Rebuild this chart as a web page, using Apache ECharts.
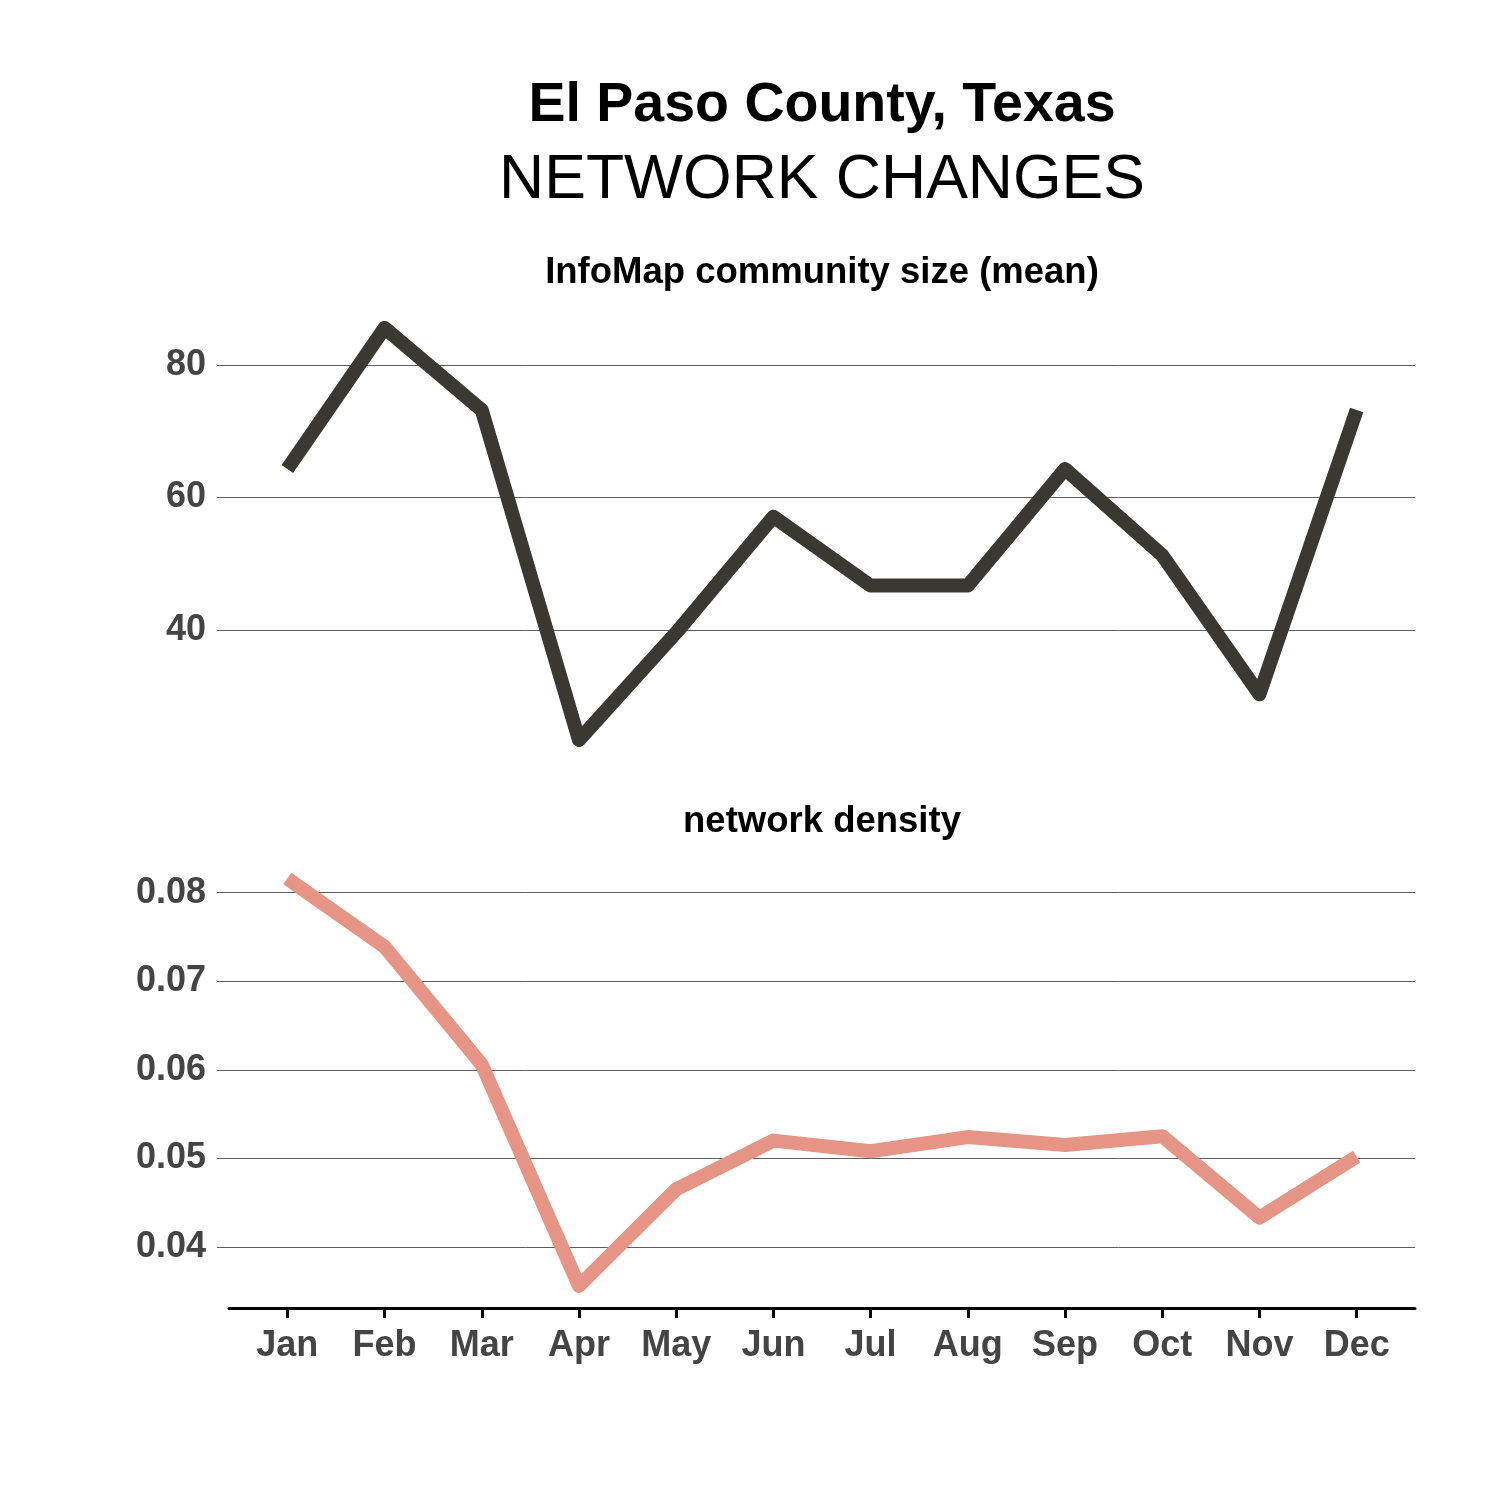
<!DOCTYPE html>
<html>
<head>
<meta charset="utf-8">
<script src="https://cdn.jsdelivr.net/npm/echarts@6/dist/echarts.min.js"></script>
<style>
  html, body { margin: 0; padding: 0; background: #fff; }
  #chart { width: 1500px; height: 1500px; }
</style>
</head>
<body>
<div id="chart"></div>
<script>
const months = ['Jan', 'Feb', 'Mar', 'Apr', 'May', 'Jun', 'Jul', 'Aug', 'Sep', 'Oct', 'Nov', 'Dec']
const communitySize = [64.3, 85.6, 73.2, 23.4, 39.6, 57.1, 46.7, 46.7, 64.3, 51.3, 30.3, 73.2]
const density = [0.0816, 0.0739, 0.0606, 0.0356, 0.0465, 0.0520, 0.0508, 0.0524, 0.0515, 0.0525, 0.0433, 0.0502]
const sizeTicks = [40, 60, 80]
const densityTicks = [0.04, 0.05, 0.06, 0.07, 0.08]

const FONT = "'Liberation Sans', Arial, Helvetica, sans-serif"
const monthIdx = months.map((m, i) => i)

const chart = echarts.init(document.getElementById('chart'), null, { renderer: 'canvas' })

function yAxisFor(gridIndex, min, max, ticks, fmt) {
  return {
    type: 'value',
    gridIndex: gridIndex,
    min: min,
    max: max,
    // keep the axis at the grid's left edge, not at x = 0
    axisLine: { show: false, onZero: false },
    axisTick: {
      show: true,
      length: 12,
      customValues: ticks,
      lineStyle: { color: '#5e5e5e', width: 1 }
    },
    splitLine: {
      show: true,
      lineStyle: { color: '#5e5e5e', width: 1 }
    },
    axisLabel: {
      customValues: ticks,
      margin: 23,
      fontSize: 36,
      fontWeight: 'bold',
      fontFamily: FONT,
      color: '#444',
      formatter: fmt
    }
  }
}

chart.setOption({
  animation: false,
  backgroundColor: '#fff',
  graphic: [
    { type: 'text', x: 822, y: 106, style: { text: 'El Paso County, Texas', fontSize: 55.5, fontWeight: 'bold', fontFamily: FONT, fill: '#000', align: 'center', verticalAlign: 'middle' } },
    { type: 'text', x: 822, y: 181, style: { text: 'NETWORK CHANGES', fontSize: 62.5, fontFamily: FONT, fill: '#000', align: 'center', verticalAlign: 'middle' } },
    { type: 'text', x: 822, y: 273, style: { text: 'InfoMap community size (mean)', fontSize: 36.5, fontWeight: 'bold', fontFamily: FONT, fill: '#000', align: 'center', verticalAlign: 'middle' } },
    { type: 'text', x: 822, y: 822, style: { text: 'network density', fontSize: 36.5, fontWeight: 'bold', fontFamily: FONT, fill: '#000', align: 'center', verticalAlign: 'middle' } }
  ],
  grid: [
    { left: 229, right: 85, top: 305, height: 452 },
    { left: 229, right: 85, top: 859, height: 449 }
  ],
  xAxis: [
    { type: 'value', gridIndex: 0, min: -0.6, max: 11.6, show: false, splitLine: { show: false } },
    {
      type: 'value',
      gridIndex: 1,
      min: -0.6,
      max: 11.6,
      splitLine: { show: false },
      axisLine: { show: true, onZero: false, lineStyle: { color: '#000', width: 3 } },
      axisTick: { show: true, length: 10, customValues: monthIdx, lineStyle: { color: '#000', width: 3 } },
      axisLabel: {
        customValues: monthIdx,
        margin: 20,
        fontSize: 36,
        fontWeight: 'bold',
        fontFamily: FONT,
        color: '#444',
        formatter: function(v) {
          return months[Math.round(v)]
        }
      }
    }
  ],
  yAxis: [
    yAxisFor(0, 20.83, 89.06, sizeTicks, function(v) { return String(v) }),
    yAxisFor(1, 0.0331, 0.0838, densityTicks, function(v) { return v.toFixed(2) })
  ],
  series: [
    {
      type: 'line',
      xAxisIndex: 0,
      yAxisIndex: 0,
      showSymbol: false,
      data: communitySize.map((v, i) => [i, v]),
      lineStyle: { color: '#3a3830', width: 14, cap: 'butt', join: 'round' }
    },
    {
      type: 'line',
      xAxisIndex: 1,
      yAxisIndex: 1,
      showSymbol: false,
      data: density.map((v, i) => [i, v]),
      lineStyle: { color: '#e59485', width: 14, cap: 'butt', join: 'round' }
    }
  ]
})
</script>
</body>
</html>
